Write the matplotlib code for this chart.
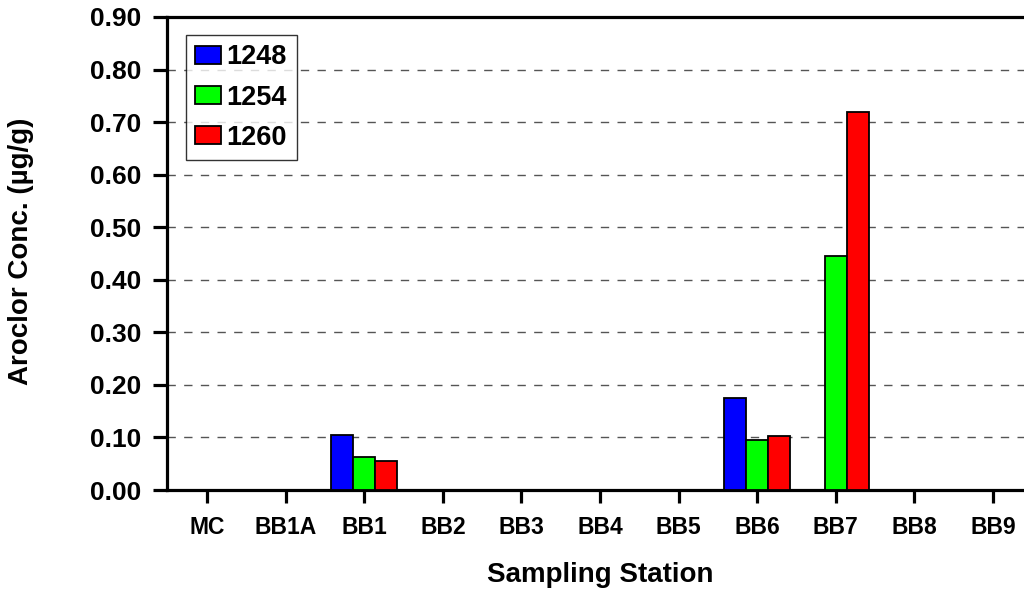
import matplotlib
matplotlib.use("Agg")
import matplotlib.pyplot as plt
import numpy as np

plt.rcParams['font.family'] = ['Liberation Sans', 'DejaVu Sans']
plt.rcParams['font.weight'] = 'bold'

stations = ["MC", "BB1A", "BB1", "BB2", "BB3", "BB4", "BB5", "BB6", "BB7", "BB8", "BB9"]
a1248 = [0, 0, 0.105, 0, 0, 0, 0, 0.175, 0, 0, 0]
a1254 = [0, 0, 0.063, 0, 0, 0, 0, 0.095, 0.445, 0, 0]
a1260 = [0, 0, 0.055, 0, 0, 0, 0, 0.103, 0.720, 0, 0]
series = [("1248", a1248, "#0000ff"), ("1254", a1254, "#00ff00"), ("1260", a1260, "#ff0000")]
yticks = [0.0, 0.1, 0.2, 0.3, 0.4, 0.5, 0.6, 0.7, 0.8, 0.9]

W, H = 1024, 595
fig = plt.figure(figsize=(W / 100, H / 100), dpi=100)
ax = fig.add_axes([167 / W, 1 - 490 / H, (1033 - 167) / W, (490 - 17) / H])

x = np.arange(len(stations))
w = 0.28
for i, (name, vals, col) in enumerate(series):
    v = np.array(vals)
    mask = v > 0
    ax.bar(x[mask] + (i - 1) * w, v[mask], width=w, color=col,
           edgecolor='black', linewidth=1.3, label=name, zorder=3)

ax.set_xlim(-0.51, 10.51)
ax.set_ylim(0, 0.9)
ax.set_yticks(yticks)
ax.set_yticklabels([f"{v:.2f}" for v in yticks], fontsize=19, fontweight='bold')
ax.set_xticks(x)
ax.set_xticklabels(stations, fontsize=16.5, fontweight='bold')
for v in yticks[1:-1]:
    ax.axhline(v, color='#555555', linestyle=(0, (6, 6)), linewidth=1, zorder=1)

for s in ax.spines.values():
    s.set_linewidth(2.3)
ax.tick_params(axis='y', direction='out', length=10, width=2.3, pad=8.5)
ax.tick_params(axis='x', direction='out', length=9.5, width=2.3, pad=9)

fig.text(21 / W, 1 - 251.5 / H, "Aroclor Conc. (µg/g)", rotation=90, fontsize=20,
         fontweight='bold', ha='center', va='center')
fig.text(600 / W, 1 - 575 / H, "Sampling Station", fontsize=20,
         fontweight='bold', ha='center', va='center')

leg = ax.legend(loc='upper left', bbox_to_anchor=((186 - 167) / 866, (490 - 35) / 473),
                fontsize=19.5, frameon=True, fancybox=False, edgecolor='black',
                handlelength=0.93, handleheight=0.6, handletextpad=0.22,
                labelspacing=0.52, borderpad=0.35, borderaxespad=0)
leg.get_frame().set_linewidth(1)
for t in leg.get_texts():
    t.set_fontweight('bold')

fig.savefig("out.png", dpi=100)
